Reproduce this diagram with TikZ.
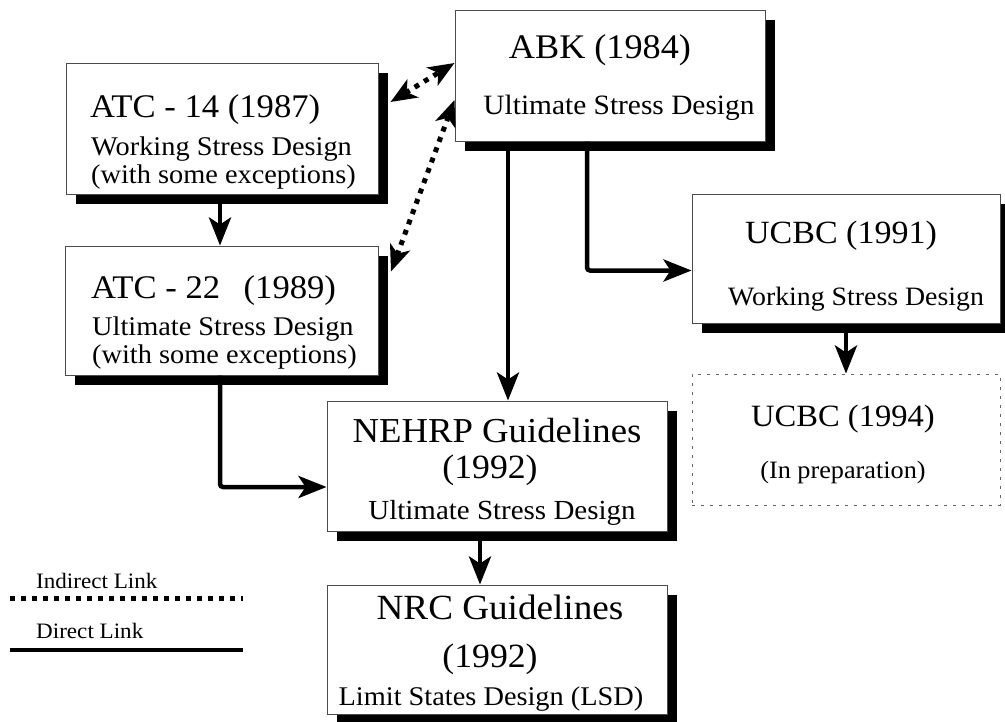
\documentclass[tikz,border=0pt]{standalone}
\usepackage{fontspec}
\setmainfont{Liberation Serif}[FakeStretch=1.05]
\usetikzlibrary{arrows.meta,shadows}
\begin{document}
\begin{tikzpicture}[x=1pt,y=-1pt,
  box/.style={rectangle, draw=black!70, line width=1pt, fill=white, inner sep=0pt,
    drop shadow={shadow xshift=10pt, shadow yshift=-10pt, fill=black, opacity=1}},
  dashbox/.style={rectangle, draw=black!60, line width=1pt, dash pattern=on 3pt off 6pt, fill=white, inner sep=0pt},
  ttl/.style={inner sep=0pt, anchor=base, font=\fontsize{33}{36}\selectfont},
  sub/.style={inner sep=0pt, anchor=base, font=\fontsize{27.6}{30}\selectfont},
  link/.style={line width=4.5pt, -{Stealth[length=28pt,width=22pt,inset=7pt]}},
  ilink/.style={line width=5pt, dash pattern=on 5pt off 6pt,
    {Stealth[length=26pt,width=21pt,inset=7pt]}-{Stealth[length=26pt,width=21pt,inset=7pt]}},
  legendtext/.style={inner sep=0pt, anchor=base west, font=\fontsize{22}{26}\selectfont}
]
\useasboundingbox (0,0) rectangle (1005,721);

% boxes
\node[box, minimum width=312pt, minimum height=131pt] (atc14) at (222,128.5) {};
\node[box, minimum width=313pt, minimum height=129pt] (atc22) at (221.5,310.5) {};
\node[box, minimum width=310pt, minimum height=131pt] (abk) at (610,75.5) {};
\node[box, minimum width=308pt, minimum height=129pt] (ucbc91) at (846,258.5) {};
\node[dashbox, minimum width=308pt, minimum height=131pt] (ucbc94) at (846,439.5) {};
\node[box, minimum width=340pt, minimum height=130pt] (nehrp) at (497,466) {};
\node[box, minimum width=340pt, minimum height=129pt] (nrc) at (497,649.5) {};

% texts
\node[ttl, anchor=base west] (atc14a) at (90,117) {ATC - 14 (1987)};
\node[sub, anchor=base west, font=\fontsize{27}{30}\selectfont] (atc14b) at (91,155) {Working Stress Design};
\node[sub, anchor=base west, font=\fontsize{27}{30}\selectfont] (atc14c) at (91,183) {(with some exceptions)};

\node[ttl, anchor=base west] (atc22a) at (91,298) {ATC - 22\hspace{0.45em} (1989)};
\node[sub, anchor=base west, font=\fontsize{27}{30}\selectfont] (atc22b) at (92,335) {Ultimate Stress Design};
\node[sub, anchor=base west, font=\fontsize{27}{30}\selectfont] (atc22c) at (92,363) {(with some exceptions)};

\node[ttl, font=\fontsize{34.5}{36}\selectfont] (abka) at (600,58) {ABK (1984)};
\node[sub, font=\fontsize{28}{30}\selectfont] (abkb) at (619,114) {Ultimate Stress Design};

\node[ttl, font=\fontsize{32.4}{36}\selectfont] (ucbc91a) at (841,243) {UCBC (1991)};
\node[sub, font=\fontsize{26.5}{30}\selectfont] (ucbc91b) at (856,305) {Working Stress Design};

\node[ttl, font=\fontsize{31}{36}\selectfont] (ucbc94a) at (843,426) {UCBC (1994)};
\node[sub, font=\fontsize{25}{30}\selectfont] (ucbc94b) at (843,478) {(In preparation)};

\node[ttl, font=\fontsize{35}{38}\selectfont] (nehrpa) at (497,442) {NEHRP Guidelines};
\node[ttl, font=\fontsize{34}{38}\selectfont] (nehrpb) at (490,478) {(1992)};
\node[sub] (nehrpc) at (502,519) {Ultimate Stress Design};

\node[ttl, font=\fontsize{35.4}{38}\selectfont] (nrca) at (500,619) {NRC Guidelines};
\node[ttl, font=\fontsize{34}{38}\selectfont] (nrcb) at (490,667) {(1992)};
\node[sub, font=\fontsize{27}{30}\selectfont] (nrcc) at (491,705) {Limit States Design (LSD)};

% legend
\node[legendtext] (indirect) at (36,588) {Indirect Link};
\node[legendtext] (direct) at (36,638) {Direct Link};
\coordinate (l1a) at (10,598);
\coordinate (l1b) at (243,598);
\coordinate (l2a) at (10,650);
\coordinate (l2b) at (243,650);
\draw[line width=5pt, dash pattern=on 5pt off 6pt] (l1a) -- (l1b);
\draw[line width=4.5pt] (l2a) -- (l2b);

% direct links
\coordinate (nehrpIn) at ([yshift=-21pt]nehrp.west);
\coordinate (abkL) at ([xshift=-102pt]abk.south);
\coordinate (abkR) at ([xshift=-23pt]abk.south);
\coordinate (ucIn) at ([yshift=-12pt]ucbc91.west);
\coordinate (nehrpOut) at ([xshift=-17pt]nehrp.south);
\draw[link] ([xshift=-2pt]atc14.south) -- ([xshift=-2pt]atc14.south |- atc22.north);
\draw[link, rounded corners=3pt] ([xshift=-1.5pt]atc22.south) |- (nehrpIn);
\draw[link] (abkL) -- (abkL |- nehrp.north);
\draw[link, rounded corners=3pt] (abkR) |- (ucIn);
\draw[link] (ucbc91.south) -- (ucbc94.north);
\draw[link] (nehrpOut) -- (nehrpOut |- nrc.north);

% indirect links
\coordinate (d1a) at ([xshift=12pt,yshift=26.5pt]atc14.east);
\coordinate (d1b) at ([yshift=12.5pt]abk.west);
\coordinate (d2a) at ([xshift=12.5pt,yshift=-26pt]atc22.north east);
\coordinate (d2b) at ([yshift=-24.5pt]abk.west);
\draw[ilink] (d1a) -- (d1b);
\draw[ilink] (d2a) -- (d2b);
\end{tikzpicture}
\end{document}
